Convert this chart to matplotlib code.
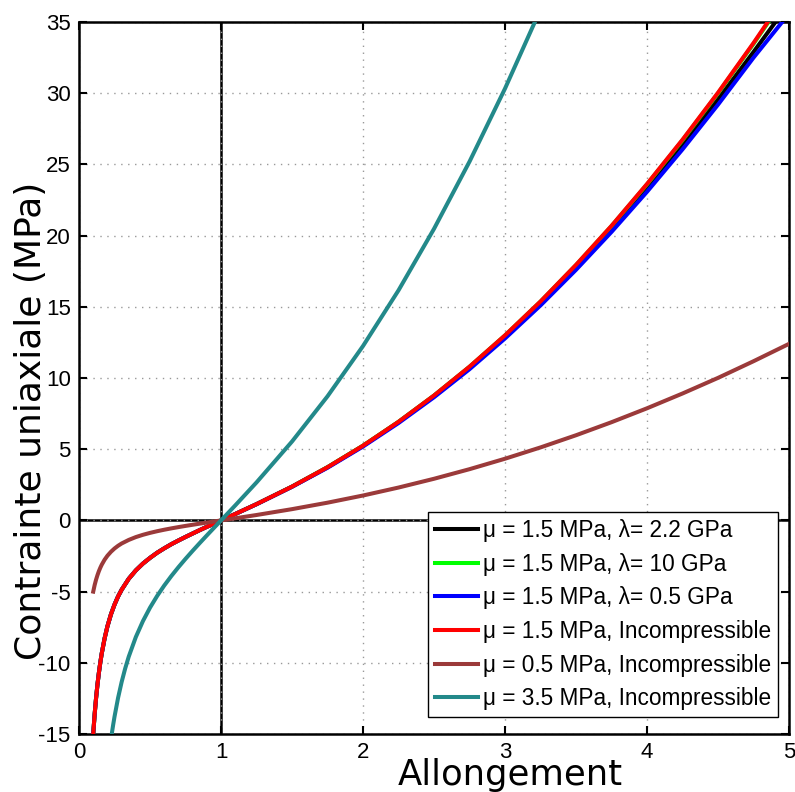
import matplotlib
matplotlib.use('Agg')
import matplotlib.pyplot as plt

plt.rcParams['axes.unicode_minus'] = False

# stretch values (Allongement)
x_soft = [0.10, 0.11, 0.12, 0.13, 0.14, 0.15, 0.16, 0.18, 0.20, 0.225, 0.25, 0.275, 0.30,
          0.35, 0.40, 0.45, 0.50, 0.55, 0.60, 0.65, 0.70, 0.75, 0.80, 0.85, 0.90, 0.95,
          1.00, 1.10, 1.25, 1.50, 1.75, 2.00, 2.25, 2.50, 2.75, 3.00, 3.25, 3.50, 3.75,
          4.00, 4.25, 4.50, 4.75, 5.00]
x_stiff = [0.23, 0.24, 0.25, 0.275, 0.30, 0.325, 0.35, 0.40, 0.45, 0.50, 0.55, 0.60, 0.65,
           0.70, 0.75, 0.80, 0.85, 0.90, 0.95, 1.00, 1.10, 1.25, 1.50, 1.75, 2.00, 2.25,
           2.50, 2.75, 3.00, 3.25]

# stress (MPa), compression branch shared by the 1.5 MPa curves
y_comp = [-14.99, -13.62, -12.48, -11.51, -10.69, -9.97, -9.34, -8.29, -7.44, -6.59, -5.91,
          -5.34, -4.87, -4.10, -3.51, -3.03, -2.63, -2.27, -1.96, -1.67, -1.41, -1.16, -0.92,
          -0.68, -0.45, -0.23, 0.0]
y_black = y_comp + [0.451, 1.144, 2.374, 3.734, 5.24, 6.91, 8.75, 10.76, 12.94, 15.30, 17.82,
                    20.52, 23.36, 26.38, 29.57, 32.90, 36.30]
y_green = y_comp + [0.451, 1.144, 2.375, 3.737, 5.25, 6.925, 8.77, 10.79, 12.99, 15.37, 17.93,
                    20.67, 23.60, 26.70, 30.00, 33.47, 37.10]
y_blue = y_comp + [0.449, 1.138, 2.36, 3.70, 5.19, 6.84, 8.65, 10.62, 12.78, 15.10, 17.60,
                   20.26, 23.08, 26.06, 29.20, 32.50, 35.60]
y_red = y_comp + [0.451, 1.144, 2.375, 3.737, 5.25, 6.927, 8.775, 10.80, 13.00, 15.38, 17.95,
                  20.69, 23.63, 26.74, 30.04, 33.53, 37.20]
y_brown = [-5.00, -4.54, -4.16, -3.84, -3.56, -3.32, -3.11, -2.76, -2.48, -2.20, -1.97, -1.78,
           -1.62, -1.37, -1.17, -1.01, -0.875, -0.758, -0.653, -0.558, -0.469, -0.385, -0.305,
           -0.227, -0.151, -0.075, 0.0, 0.150, 0.381, 0.792, 1.246, 1.75, 2.309, 2.925, 3.599,
           4.333, 5.127, 5.982, 6.898, 7.875, 8.914, 10.01, 11.18, 12.40]
y_teal = [-15.03, -14.38, -13.78, -12.46, -11.35, -10.40, -9.57, -8.19, -7.07, -6.125, -5.305,
          -4.573, -3.906, -3.285, -2.698, -2.135, -1.589, -1.054, -0.525, 0.0, 1.053, 2.669,
          5.542, 8.719, 12.25, 16.16, 20.48, 25.20, 30.33, 35.89]

labels = ['\u03bc = 1.5 MPa, \u03bb= 2.2 GPa',
          '\u03bc = 1.5 MPa, \u03bb= 10 GPa',
          '\u03bc = 1.5 MPa, \u03bb= 0.5 GPa',
          '\u03bc = 1.5 MPa, Incompressible',
          '\u03bc = 0.5 MPa, Incompressible',
          '\u03bc = 3.5 MPa, Incompressible']
colors = ['black', '#00ff00', '#0000ff', '#ff0000', '#9b3a3a', '#23898a']

fig = plt.figure(figsize=(7.95, 7.92), dpi=100)
ax = fig.add_axes([0.0994, 0.0732, 0.8931, 0.8990])

ax.axhline(0, color='black', lw=1.8, zorder=1)
ax.axvline(1, color='black', lw=1.8, zorder=1)

series = [(x_soft, y_black), (x_soft, y_green), (x_soft, y_blue),
          (x_soft, y_red), (x_soft, y_brown), (x_stiff, y_teal)]
for (xs, ys), c, lab in zip(series, colors, labels):
    ax.plot(xs, ys, color=c, lw=2.9, label=lab, zorder=3)

ax.set_xlim(0, 5)
ax.set_ylim(-15, 35)
ax.set_xticks(range(0, 6))
ax.set_yticks(range(-15, 40, 5))
ax.grid(True, linestyle=(0, (1, 4)), color='#999999', lw=1.0)
ax.tick_params(direction='in', length=6, width=1.5, top=True, right=True,
               labelsize=16, pad=6)
for lbl in ax.get_xticklabels() + ax.get_yticklabels():
    lbl.set_family('Liberation Sans')
for sp in ax.spines.values():
    sp.set_linewidth(1.8)

ax.set_xlabel('Allongement', fontsize=25.5, family='DejaVu Sans')
ax.set_ylabel('Contrainte uniaxiale (MPa)', fontsize=26, family='DejaVu Sans')
ax.xaxis.set_label_coords(0.607, -0.034)
ax.yaxis.set_label_coords(-0.044, 0.44)

leg = ax.legend(loc='lower right', bbox_to_anchor=(0.985, 0.024), borderaxespad=0,
                prop={'family': 'Liberation Sans', 'size': 16.3}, fancybox=False,
                edgecolor='black', framealpha=1, handlelength=1.9, handletextpad=0.25,
                labelspacing=0.47, borderpad=0.3)
leg.get_frame().set_linewidth(1.0)
leg.set_zorder(5)

fig.savefig('out.png', dpi=100)
